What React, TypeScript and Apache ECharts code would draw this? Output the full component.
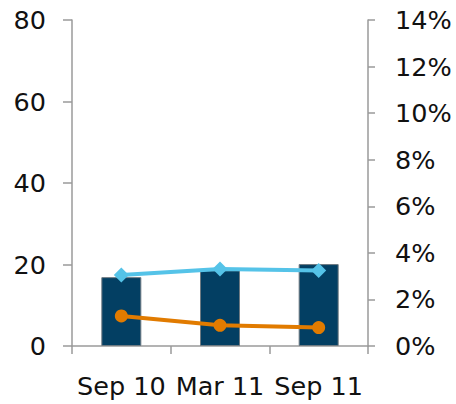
import React, { useEffect, useRef } from "react";
import * as echarts from "echarts";

const categories = ["Sep 10", "Mar 11", "Sep 11"];
const barValues = [16.9, 18.6, 20.1];
const blueValues = [3.05, 3.31, 3.24];
const orangeValues = [1.29, 0.89, 0.79];
const leftTicks = [0, 20, 40, 60, 80];
const rightMax = 14;

const FONT = "DejaVu Sans, Verdana, sans-serif";
const AXIS = "#9a9a9a";

export default function App() {
  const ref = useRef<HTMLDivElement>(null);
  useEffect(() => {
    const chart = echarts.init(ref.current!, null, { renderer: "svg" });
    chart.setOption({
      animation: false,
      grid: { left: 72, right: 88, top: 20, bottom: 58, containLabel: false },
      xAxis: {
        type: "category",
        data: categories,
        boundaryGap: true,
        axisLine: { lineStyle: { color: AXIS, width: 1.5 } },
        axisTick: { show: true, length: 8, interval: 0, lineStyle: { color: AXIS, width: 1.5 } },
        axisLabel: { color: "#111", fontFamily: FONT, fontSize: 25.5, margin: 27, interval: 0 },
      },
      yAxis: [
        {
          type: "value",
          min: leftTicks[0],
          max: leftTicks[leftTicks.length - 1],
          interval: 20,
          splitLine: { show: false },
          axisLine: { show: true, lineStyle: { color: AXIS, width: 1.5 } },
          axisTick: { show: true, length: 9, lineStyle: { color: AXIS, width: 1.5 } },
          axisLabel: { color: "#111", fontFamily: FONT, fontSize: 25.5, margin: 26 },
        },
        {
          type: "value",
          min: 0,
          max: rightMax,
          interval: 2,
          position: "right",
          splitLine: { show: false },
          axisLine: { show: true, lineStyle: { color: AXIS, width: 1.5 } },
          axisTick: { show: true, length: 7, lineStyle: { color: AXIS, width: 1.5 } },
          axisLabel: { color: "#111", fontFamily: FONT, fontSize: 25.5, margin: 27, formatter: "{value}%" },
        },
      ],
      series: [
        {
          type: "bar",
          data: barValues,
          barWidth: 40,
          yAxisIndex: 0,
          itemStyle: { color: "#033F63", borderColor: "#6e7a82", borderWidth: 1 },
        },
        {
          type: "line",
          data: blueValues,
          yAxisIndex: 1,
          symbol: "diamond",
          symbolSize: 15,
          lineStyle: { color: "#55C3E8", width: 4 },
          itemStyle: { color: "#55C3E8" },
        },
        {
          type: "line",
          data: orangeValues,
          yAxisIndex: 1,
          symbol: "circle",
          symbolSize: 13,
          lineStyle: { color: "#E17B00", width: 4 },
          itemStyle: { color: "#E17B00" },
        },
      ],
    });
    return () => chart.dispose();
  }, []);
  return <div ref={ref} style={{ width: 456, height: 404, position: "absolute", left: 0, top: 0 }} />;
}
